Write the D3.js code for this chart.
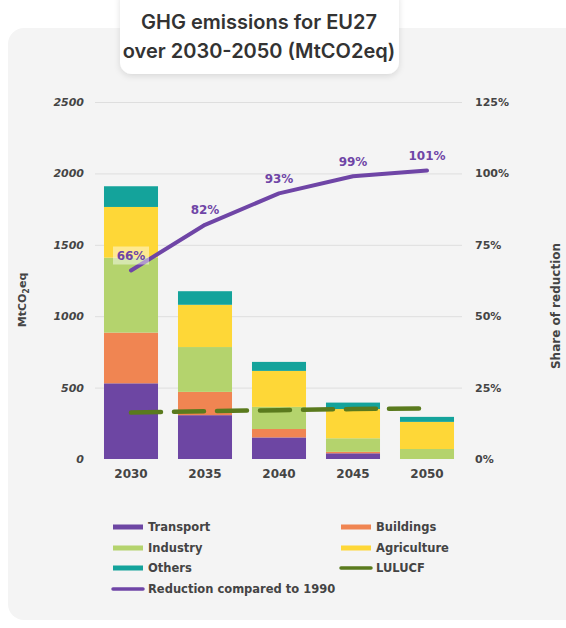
<!DOCTYPE html>
<html>
<head>
<meta charset="utf-8">
<title>GHG emissions for EU27</title>
<script src="https://cdn.jsdelivr.net/npm/d3@7"></script>
<style>
    body{
        margin: 0;
        background-color: #fff;
    }
    .axis text{
        font-family: "DejaVu Sans", Verdana, sans-serif;
        font-weight: bold;
        fill: #444;
    }
    .axis path, .axis line{
        display: none;
    }
    .grid line{
        stroke: #dedede;
        stroke-width: 1px;
    }
    .grid path{
        display: none;
    }
    .legendText{
        font-family: "DejaVu Sans", Verdana, sans-serif;
        font-weight: bold;
        font-size: 11.5px;
        fill: #444;
    }
</style>
</head>
<body>
<div id="chart"></div>
<script>
    // chart data
    var years = ['2030', '2035', '2040', '2045', '2050'];
    var sectors = ['Transport', 'Buildings', 'Industry', 'Agriculture', 'Others'];
    var transport = [530, 307, 151, 40, 0];
    var buildings = [355, 163, 59, 10, 0];
    var industry = [525, 314, 155, 95, 70];
    var agriculture = [355, 296, 252, 205, 190];
    var others = [145, 95, 63, 45, 35];
    var lulucf = [325, 335, 342, 350, 355];
    var reduction = [66, 82, 93, 99, 101];
    var leftTicks = [0, 500, 1000, 1500, 2000, 2500];
    var rightTicks = [0, 25, 50, 75, 100, 125];

    var colors = {
        Transport: '#6d46a3',
        Buildings: '#f08552',
        Industry: '#b4d36d',
        Agriculture: '#fed737',
        Others: '#14a39b'
    };
    var lineColor = '#6f45a6', lulucfColor = '#5a7a1d';

    var width = 566, height = 628;
    var plotLeft = 94, plotRight = 464, plotTop = 102, plotBottom = 459;

    var svg = d3.select('#chart')
        .append('svg')
        .attr('width', width)
        .attr('height', height);

    var defs = svg.append('defs');
    var shadow = defs.append('filter').attr('id', 'shadow')
        .attr('x', '-20%').attr('y', '-30%').attr('width', '140%').attr('height', '160%');
    shadow.append('feDropShadow')
        .attr('dx', 0).attr('dy', 2).attr('stdDeviation', 3)
        .attr('flood-color', '#000').attr('flood-opacity', 0.12);

    // card background
    svg.append('rect')
        .attr('x', 8).attr('y', 28)
        .attr('width', 575).attr('height', 592)
        .attr('rx', 16)
        .attr('fill', '#f4f4f4');

    // title box
    svg.append('rect')
        .attr('x', 120).attr('y', -12)
        .attr('width', 279).attr('height', 86)
        .attr('rx', 12)
        .attr('fill', '#fff')
        .attr('filter', 'url(#shadow)');

    var title = svg.append('text')
        .attr('text-anchor', 'middle')
        .style('font-family', 'Inter, "Noto Sans", sans-serif')
        .style('font-weight', 600)
        .style('font-size', '20px')
        .attr('fill', '#333');
    title.append('tspan').attr('x', 259).attr('y', 29).text('GHG emissions for EU27');
    title.append('tspan').attr('x', 259).attr('y', 58).text('over 2030-2050 (MtCO2eq)');

    // scales
    var xScale = d3.scaleBand()
        .domain(years)
        .range([plotLeft, plotRight])
        .paddingInner(0.27)
        .paddingOuter(0.135);

    var yScale = d3.scaleLinear()
        .domain([0, 2500])
        .range([plotBottom, plotTop]);

    var pScale = d3.scaleLinear()
        .domain([0, 125])
        .range([plotBottom, plotTop]);

    // gridlines
    svg.append('g')
        .attr('class', 'grid')
        .attr('transform', 'translate(' + 95 + ',0)')
        .call(d3.axisLeft(yScale).tickValues(leftTicks.slice(1)).tickSize(-(462 - 95)).tickFormat(''));

    // stacked bars
    var table = years.map(function(y, i){
        return {
            year: y,
            Transport: transport[i],
            Buildings: buildings[i],
            Industry: industry[i],
            Agriculture: agriculture[i],
            Others: others[i]
        };
    });
    var stacked = d3.stack().keys(sectors)(table);

    svg.selectAll('.layer')
        .data(stacked)
        .enter()
        .append('g')
        .attr('class', 'layer')
        .attr('fill', function(d){ return colors[d.key]; })
        .selectAll('rect')
        .data(function(d){ return d; })
        .enter()
        .append('rect')
        .attr('x', function(d){ return xScale(d.data.year); })
        .attr('width', xScale.bandwidth())
        .attr('y', function(d){ return yScale(d[1]); })
        .attr('height', function(d){ return yScale(d[0]) - yScale(d[1]); });

    // LULUCF dashed line
    var lulucfLine = d3.line()
        .x(function(d, i){ return xScale(years[i]) + xScale.bandwidth() / 2; })
        .y(function(d){ return yScale(d); });

    svg.append('path')
        .datum(lulucf)
        .attr('d', lulucfLine)
        .attr('fill', 'none')
        .attr('stroke', lulucfColor)
        .attr('stroke-width', 4.5)
        .attr('stroke-dasharray', '30,13')
        .attr('stroke-linecap', 'round');

    // reduction line
    var redLine = d3.line()
        .x(function(d, i){ return xScale(years[i]) + xScale.bandwidth() / 2; })
        .y(function(d){ return pScale(d); });

    svg.append('path')
        .datum(reduction)
        .attr('d', redLine)
        .attr('fill', 'none')
        .attr('stroke', lineColor)
        .attr('stroke-width', 4)
        .attr('stroke-linecap', 'round')
        .attr('stroke-linejoin', 'round');

    var labels = svg.selectAll('.redLabel')
        .data(reduction)
        .enter()
        .append('g')
        .attr('class', 'redLabel')
        .attr('transform', function(d, i){
            return 'translate(' + (xScale(years[i]) + xScale.bandwidth() / 2) + ',' + (pScale(d) - 15) + ')';
        });
    labels.append('rect')
        .attr('x', function(d){ return d >= 100 ? -22 : -18; })
        .attr('y', -9)
        .attr('width', function(d){ return d >= 100 ? 44 : 36; })
        .attr('height', 18)
        .attr('fill', '#fff')
        .attr('opacity', function(d, i){ return i == 0 ? 0.45 : 0; });
    labels.append('text')
        .attr('text-anchor', 'middle')
        .attr('dy', '0.36em')
        .style('font-family', '"DejaVu Sans", Verdana, sans-serif')
        .style('font-weight', 'bold')
        .style('font-size', '12px')
        .attr('fill', lineColor)
        .text(function(d){ return d + '%'; });

    // axes
    svg.append('g')
        .attr('class', 'axis')
        .attr('transform', 'translate(' + plotLeft + ',0)')
        .call(d3.axisLeft(yScale).tickValues(leftTicks).tickSize(0).tickPadding(10).tickFormat(d3.format('d')))
        .selectAll('text')
        .style('font-size', '11px')
        .style('font-style', 'italic');

    svg.append('g')
        .attr('class', 'axis')
        .attr('transform', 'translate(' + plotRight + ',0)')
        .call(d3.axisRight(pScale).tickValues(rightTicks).tickSize(0).tickPadding(11)
            .tickFormat(function(d){ return d + '%'; }))
        .selectAll('text')
        .style('font-size', '11px');

    svg.append('g')
        .attr('class', 'axis')
        .attr('transform', 'translate(0,' + plotBottom + ')')
        .call(d3.axisBottom(xScale).tickSize(0).tickPadding(10))
        .selectAll('text')
        .style('font-size', '12px');

    // axis titles
    var ytitle = svg.append('text')
        .attr('transform', 'translate(22,300) rotate(-90)')
        .attr('text-anchor', 'middle')
        .attr('dy', '0.35em')
        .attr('class', 'legendText')
        .style('font-size', '11px');
    ytitle.append('tspan').text('MtCO');
    ytitle.append('tspan').attr('dy', 3).style('font-size', '8px').text('2');
    ytitle.append('tspan').attr('dy', -3).text('eq');

    svg.append('text')
        .attr('transform', 'translate(556,306) rotate(-90)')
        .attr('text-anchor', 'middle')
        .attr('dy', '0.35em')
        .style('font-family', '"DejaVu Sans", Verdana, sans-serif')
        .style('font-weight', 'bold')
        .style('font-size', '12px')
        .attr('fill', '#444')
        .text('Share of reduction');

    // legend
    var legendItems = [
        {name: 'Transport', color: colors.Transport, type: 'bar', x: 112, y: 527},
        {name: 'Buildings', color: colors.Buildings, type: 'bar', x: 340, y: 527},
        {name: 'Industry', color: colors.Industry, type: 'bar', x: 112, y: 548},
        {name: 'Agriculture', color: colors.Agriculture, type: 'bar', x: 340, y: 548},
        {name: 'Others', color: colors.Others, type: 'bar', x: 112, y: 568},
        {name: 'LULUCF', color: lulucfColor, type: 'line', x: 340, y: 568},
        {name: 'Reduction compared to 1990', color: lineColor, type: 'line', x: 112, y: 589}
    ];

    var legend = svg.selectAll('.legendItem')
        .data(legendItems)
        .enter()
        .append('g')
        .attr('class', 'legendItem')
        .attr('transform', function(d){ return 'translate(' + d.x + ',' + d.y + ')'; });

    legend.append('line')
        .attr('x1', 1).attr('x2', 31)
        .attr('y1', 0).attr('y2', 0)
        .attr('stroke', function(d){ return d.color; })
        .attr('stroke-width', function(d){ return d.type == 'bar' ? 5 : 3.5; })
        .attr('stroke-linecap', function(d){ return d.type == 'bar' ? 'butt' : 'round'; });

    legend.append('text')
        .attr('class', 'legendText')
        .attr('x', 36)
        .attr('dy', '0.35em')
        .text(function(d){ return d.name; });
</script>
</body>
</html>
